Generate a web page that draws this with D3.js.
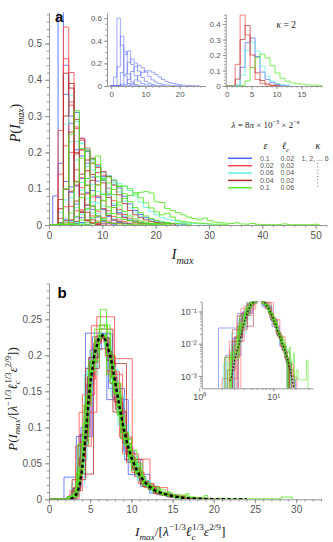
<!DOCTYPE html>
<html>
<head>
<meta charset="utf-8">
<script src="https://cdn.jsdelivr.net/npm/d3@7"></script>
<style>
body { margin: 0; background: #fff; }
svg text { font-family: "Liberation Sans", Arial, sans-serif; }
.math { font-family: "Liberation Serif", "DejaVu Serif", serif; }
</style>
</head>
<body>
<script>
// histogram bins in I_max: bin k covers [binStart + k*binWidth, binStart + (k+1)*binWidth]
const binStart = -0.3, binWidth = 1;

// legend parameters of the five runs
const setEps = ["0.1", "0.02", "0.06", "0.04", "0.1"];
const setEll = ["0.02", "0.02", "0.04", "0.02", "0.06"];
const kappaText = "1, 2, ... 6";

// P(I_max) per bin, one array per kappa = 1..6
const blueHist = [
    [0, 0.08, 0.6, 0.36, 0.09, 0.022, 0.007, 0.002],
    [0, 0, 0.006, 0.12, 0.28, 0.31, 0.19, 0.09, 0.043, 0.022, 0.01, 0.005, 0.002],
    [0, 0, 0.17, 0.44, 0.3, 0.107, 0.035, 0.0125, 0.005, 0.002],
    [0, 0, 0, 0.016, 0.105, 0.207, 0.239, 0.202, 0.132, 0.076, 0.042, 0.023, 0.013, 0.007, 0.004, 0.003],
    [0, 0, 0, 0, 0.012, 0.058, 0.128, 0.17, 0.182, 0.162, 0.123, 0.083, 0.054, 0.034, 0.022, 0.014, 0.009, 0.006, 0.004, 0.003, 0.002],
    [0, 0, 0, 0, 0, 0.004, 0.02, 0.054, 0.095, 0.121, 0.134, 0.134, 0.122, 0.102, 0.079, 0.058, 0.04, 0.029, 0.021, 0.016, 0.011, 0.008, 0.006, 0.004, 0.003, 0.002]
];
const redHist = [
    [0, 0, 0.26, 0.545, 0.42, 0.12, 0.035, 0.012, 0.005, 0.002],
    [0, 0, 0.14, 0.458, 0.33, 0.12, 0.042, 0.015, 0.006, 0.003],
    [0, 0, 0.018, 0.218, 0.339, 0.266, 0.13, 0.056, 0.025, 0.011, 0.005, 0.003],
    [0, 0, 0.001, 0.05, 0.2, 0.27, 0.239, 0.149, 0.077, 0.038, 0.02, 0.011, 0.006, 0.004],
    [0, 0, 0, 0.006, 0.051, 0.152, 0.206, 0.212, 0.169, 0.111, 0.067, 0.039, 0.023, 0.014, 0.009, 0.005, 0.003, 0.002],
    [0, 0, 0, 0, 0.007, 0.039, 0.103, 0.15, 0.171, 0.166, 0.137, 0.1, 0.067, 0.043, 0.029, 0.019, 0.013, 0.008, 0.005, 0.004, 0.003, 0.002]
];
const cyanHist = [
    [0, 0, 0.034, 0.278, 0.358, 0.23, 0.096, 0.042, 0.017, 0.008, 0.004],
    [0, 0, 0.003, 0.069, 0.229, 0.285, 0.226, 0.128, 0.064, 0.032, 0.016, 0.008, 0.005],
    [0, 0, 0, 0.009, 0.075, 0.179, 0.224, 0.21, 0.152, 0.092, 0.052, 0.03, 0.017, 0.01, 0.006, 0.004],
    [0, 0, 0, 0, 0.009, 0.048, 0.117, 0.161, 0.177, 0.164, 0.13, 0.091, 0.059, 0.039, 0.025, 0.016, 0.011, 0.007, 0.005, 0.003, 0.002],
    [0, 0, 0, 0, 0.001, 0.007, 0.03, 0.072, 0.112, 0.134, 0.144, 0.136, 0.116, 0.091, 0.066, 0.047, 0.033, 0.023, 0.016, 0.011, 0.008, 0.006, 0.004, 0.003, 0.002],
    [0, 0, 0, 0, 0, 0, 0.004, 0.013, 0.033, 0.061, 0.086, 0.102, 0.112, 0.114, 0.107, 0.095, 0.08, 0.063, 0.048, 0.037, 0.028, 0.021, 0.016, 0.013, 0.009, 0.007, 0.005, 0.004, 0.003, 0.003, 0.002]
];
const darkRedHist = [
    [0, 0, 0.07, 0.418, 0.377, 0.11, 0.035, 0.012, 0.005, 0.002],
    [0, 0, 0.045, 0.3, 0.39, 0.2, 0.085, 0.035, 0.014, 0.006, 0.003],
    [0, 0, 0.005, 0.098, 0.256, 0.291, 0.209, 0.109, 0.052, 0.025, 0.013, 0.007, 0.004],
    [0, 0, 0, 0.012, 0.093, 0.196, 0.234, 0.206, 0.139, 0.08, 0.045, 0.026, 0.014, 0.009, 0.005, 0.003],
    [0, 0, 0, 0, 0.014, 0.066, 0.14, 0.179, 0.184, 0.158, 0.116, 0.076, 0.048, 0.03, 0.02, 0.012, 0.008, 0.005, 0.003, 0.002],
    [0, 0, 0, 0, 0.001, 0.01, 0.038, 0.086, 0.123, 0.144, 0.147, 0.134, 0.11, 0.083, 0.059, 0.04, 0.028, 0.02, 0.014, 0.01, 0.007, 0.005, 0.004, 0.003]
];
const greenHist = [
    [0, 0, 0.005, 0.1, 0.25, 0.315, 0.21, 0.11, 0.052, 0.025, 0.013, 0.007, 0.004, 0.003, 0.002, 0.001, 0.002, 0.001, 0.001, 0.001, 0.001, 0.001, 0.004],
    [0, 0, 0, 0.003, 0.033, 0.118, 0.184, 0.205, 0.181, 0.132, 0.084, 0.05, 0.031, 0.02, 0.015, 0.012, 0.008, 0.006, 0.005, 0.003],
    [0, 0, 0, 0, 0.004, 0.024, 0.076, 0.128, 0.17, 0.19, 0.125, 0.116, 0.084, 0.055, 0.037, 0.025, 0.017, 0.011, 0.008, 0.005, 0.004, 0.003, 0.002],
    [0, 0, 0, 0, 0, 0.003, 0.014, 0.045, 0.082, 0.11, 0.128, 0.132, 0.124, 0.108, 0.086, 0.065, 0.048, 0.034, 0.025, 0.018, 0.013, 0.009, 0.007, 0.005, 0.004, 0.003, 0.002],
    [0, 0, 0, 0, 0, 0, 0.002, 0.007, 0.02, 0.042, 0.068, 0.086, 0.098, 0.106, 0.107, 0.1, 0.089, 0.075, 0.061, 0.047, 0.036, 0.028, 0.032, 0.022, 0.013, 0.009, 0.008, 0.006, 0.005, 0.004, 0.003, 0.002, 0.002, 0.001],
    [0, 0, 0, 0, 0, 0, 0, 0.001, 0.003, 0.008, 0.017, 0.031, 0.048, 0.063, 0.073, 0.081, 0.085, 0.09, 0.092, 0.088, 0.064, 0.062, 0.045, 0.04, 0.034, 0.028, 0.022, 0.018, 0.014, 0.019, 0.012, 0.008, 0.0065, 0.005, 0.0042, 0.006, 0.003, 0.0024, 0.004, 0.002, 0.0015, 0.001, 0.001, 0.001, 0.003, 0.001, 0.001, 0.001, 0.001, 0.001, 0.002]
];

// 1/[lambda^-1/3 lc^1/3 eps^2/9] per kappa, used for the collapse in panel b
const blueRescale = [2.6, 1.35, 1.95, 1.05, 0.8, 0.6];
const redRescale = [2.15, 1.9, 1.5, 1.2, 0.95, 0.76];
const cyanRescale = [1.6, 1.25, 1.0, 0.78, 0.63, 0.5];
const darkRedRescale = [2.0, 1.65, 1.3, 1.03, 0.82, 0.65];
const greenRescale = [1.3, 0.9, 0.72, 0.58, 0.47, 0.38];

// dashed master curve of panel b
const masterX = [2.6, 2.75, 3, 3.25, 3.5, 3.75, 4, 4.25, 4.5, 4.75, 5, 5.5, 6, 6.5, 7, 7.5, 8, 8.5, 9, 9.5, 10, 10.5, 11, 12, 13, 14, 15, 16, 17, 18, 19, 20, 22, 24];
const masterY = [0.0007, 0.001, 0.003, 0.006, 0.011, 0.022, 0.04, 0.065, 0.095, 0.13, 0.16, 0.2, 0.222, 0.228, 0.218, 0.196, 0.165, 0.132, 0.102, 0.077, 0.058, 0.044, 0.033, 0.019, 0.011, 0.0075, 0.0045, 0.0025, 0.0014, 0.0008, 0.0004, 0.0003, 0.0001, 0.00005];

// ticks
const xTicksA = [0, 10, 20, 30, 40, 50], yTicksA = [0, 0.1, 0.2, 0.3, 0.4, 0.5];
const xTicksI1 = [0, 10, 20], yTicksI1 = [0, 0.2, 0.4, 0.6];
const xTicksI2 = [0, 5, 10, 15], yTicksI2 = [0, 0.1, 0.2, 0.3, 0.4];
const xTicksB = [0, 5, 10, 15, 20, 25, 30], yTicksB = [0, 0.05, 0.1, 0.15, 0.2, 0.25];
const xTicksL = [1, 10], xLabelsL = ["10⁰", "10¹"];
const yTicksL = [0.001, 0.01, 0.1], yLabelsL = ["10⁻³", "10⁻²", "10⁻¹"];

const hists = [blueHist, redHist, cyanHist, darkRedHist, greenHist];
const rescales = [blueRescale, redRescale, cyanRescale, darkRedRescale, greenRescale];
const colors = ["#4d63ff", "#ff4b4b", "#62f0dc", "#b5302a", "#4fe81c"];

const svg = d3.select("body").append("svg")
    .attr("width", 333)
    .attr("height", 542);

let clipCount = 0;
function clipped(x, y) {
    const id = "clip" + (clipCount++);
    const [x0, x1] = x.range(), [y0, y1] = y.range();
    svg.append("clipPath").attr("id", id)
        .append("rect")
        .attr("x", x0).attr("y", y1)
        .attr("width", x1 - x0).attr("height", y0 - y1);
    return svg.append("g").attr("clip-path", `url(#${id})`);
}

// stairs outline of a histogram, rising from and falling back to the baseline
function histPath(values, s, x, y, collapse, logY) {
    const base = y.range()[0];
    const edge = k => {
        let e = binStart + k * binWidth;
        if (collapse) e *= s;
        if (logY && e <= 0) e = x.domain()[0] / 2;
        return x(e);
    };
    const level = v => {
        const h = collapse ? v / s : v;
        return (logY && h <= 0) ? base + 10 : y(h);
    };
    let d = `M${edge(0)},${logY ? base + 10 : base}`;
    values.forEach((v, k) => {
        d += `V${level(v)}H${edge(k + 1)}`;
    });
    return d + `V${logY ? base + 10 : base}`;
}

function drawHists(g, x, y, pick, opts) {
    hists.forEach((set, i) => {
        set.forEach((values, j) => {
            if (!pick(i, j)) return;
            g.append("path")
                .attr("d", histPath(values, rescales[i][j], x, y, opts.collapse, opts.logY))
                .attr("fill", "none")
                .attr("stroke", colors[i])
                .attr("stroke-width", opts.width)
                .attr("stroke-opacity", opts.opacity);
        });
    });
}

function drawAxes(x, y, o) {
    const g = svg.append("g");
    const bottom = y.range()[0], left = x.range()[0];
    g.append("g").attr("transform", `translate(0,${bottom})`)
        .call(d3.axisBottom(x).tickValues(o.xMinor).tickSize(o.minor).tickFormat("").tickSizeOuter(0))
        .select(".domain").remove();
    g.append("g").attr("transform", `translate(${left},0)`)
        .call(d3.axisLeft(y).tickValues(o.yMinor).tickSize(o.minor).tickFormat("").tickSizeOuter(0))
        .select(".domain").remove();
    g.append("g").attr("transform", `translate(0,${bottom})`)
        .call(d3.axisBottom(x).tickValues(o.xMajor).tickSize(o.major).tickSizeOuter(0)
            .tickPadding(o.pad).tickFormat((d, i) => o.xLabels ? o.xLabels[i] : String(d)));
    g.append("g").attr("transform", `translate(${left},0)`)
        .call(d3.axisLeft(y).tickValues(o.yMajor).tickSize(o.major).tickSizeOuter(0)
            .tickPadding(o.pad).tickFormat((d, i) => o.yLabels ? o.yLabels[i] : String(d)));
    g.selectAll(".domain, .tick line").attr("stroke", "#8c8c8c").attr("stroke-width", 0.9);
    g.selectAll(".tick text").attr("fill", "#555").attr("font-size", o.font)
        .attr("font-family", "Liberation Sans, Arial, sans-serif");
}

// rich math text: [text, flags, dx]; flags: i italic, _ subscript, ^ superscript
function rich(sel, parts, size) {
    let shift = 0;
    parts.forEach(([t, fl = "", dx = 0]) => {
        const sup = fl.includes("^"), sub = fl.includes("_");
        const target = sup ? -0.4 * size : sub ? 0.3 * size : 0;
        const ts = sel.append("tspan").text(t)
            .attr("dy", target - shift)
            .attr("font-size", sup || sub ? size * 0.68 : size)
            .attr("font-style", fl.includes("i") ? "italic" : "normal");
        if (dx) ts.attr("dx", dx);
        shift = target;
    });
}

function mathText(x, y, size, parts, rotate, anchor) {
    const t = svg.append("text").attr("class", "math")
        .attr("fill", "#222")
        .attr("text-anchor", anchor || "start")
        .attr("transform", `translate(${x},${y})` + (rotate ? " rotate(-90)" : ""));
    rich(t, parts, size);
    return t;
}

// ---------- panel a ----------
const xA = d3.scaleLinear([0, 52], [49, 326.3]);
const yA = d3.scaleLinear([0, 0.585], [225, 12.6]);
drawHists(clipped(xA, yA), xA, yA, () => true, {width: 1, opacity: 0.85});
drawAxes(xA, yA, {xMajor: xTicksA, yMajor: yTicksA, xMinor: d3.range(0, 52.1, 2), yMinor: d3.range(0, 0.581, 0.02),
    major: 4, minor: 2.2, pad: 3, font: 10});

svg.append("text").attr("x", 55).attr("y", 21.5).attr("font-size", 15).attr("font-weight", "bold").text("a");
mathText(20, 123, 14, [["P", "i"], ["("], ["I", "i"], ["max", "i_"], [")"]], true, "middle");
mathText(171.5, 259, 15, [["I", "i"], ["max", "i_"]]);

// inset: blue run, all kappa
const xI1 = d3.scaleLinear([-1.2, 27.5], [107, 205.4]);
const yI1 = d3.scaleLinear([0, 0.645], [86, 13]);
drawHists(clipped(xI1, yI1), xI1, yI1, i => i === 0, {width: 0.8, opacity: 0.7});
drawAxes(xI1, yI1, {xMajor: xTicksI1, yMajor: yTicksI1, xMinor: d3.range(0, 27.1, 2), yMinor: d3.range(0, 0.64, 0.05),
    major: 3, minor: 1.6, pad: 2, font: 8});

// inset: kappa = 2, all runs
const xI2 = d3.scaleLinear([-0.2, 19.1], [225.7, 321.8]);
const yI2 = d3.scaleLinear([0, 0.465], [86, 14]);
drawHists(clipped(xI2, yI2), xI2, yI2, (i, j) => j === 1, {width: 0.9, opacity: 0.8});
drawAxes(xI2, yI2, {xMajor: xTicksI2, yMajor: yTicksI2, xMinor: d3.range(0, 19.1, 1), yMinor: d3.range(0, 0.461, 0.02),
    major: 3, minor: 1.6, pad: 2, font: 8});
mathText(276.5, 28, 9.5, [["κ", "i"], [" = 2"]]);

mathText(231.5, 128, 9, [["λ", "i"], [" = 8"], ["π", "i"], [" × 10"], ["−3", "^"], [" × 2"], ["−", "^"], ["κ", "i^"]]);

// legend
const legY = [158.3, 165.7, 173, 180.4, 187.7];
mathText(263.5, 148.5, 10, [["ε", "i"]]);
mathText(282, 148.5, 10, [["ℓ", "i"], ["c", "i_"]]);
mathText(315.5, 148.5, 10, [["κ", "i"]]);
legY.forEach((ly, i) => {
    svg.append("line").attr("x1", 228).attr("x2", 252).attr("y1", ly).attr("y2", ly)
        .attr("stroke", colors[i]).attr("stroke-width", 1.5);
    svg.append("text").attr("x", 260).attr("y", ly + 2.4).attr("font-size", 7).attr("fill", "#555").text(setEps[i]);
    svg.append("text").attr("x", 280.5).attr("y", ly + 2.4).attr("font-size", 7).attr("fill", "#555").text(setEll[i]);
});
svg.append("text").attr("x", 301.5).attr("y", legY[0] + 2.4).attr("font-size", 7).attr("fill", "#555").text(kappaText);
svg.append("line").attr("x1", 317.8).attr("x2", 317.8).attr("y1", legY[1] - 2.5).attr("y2", legY[4] - 1)
    .attr("stroke", "#666").attr("stroke-width", 1).attr("stroke-dasharray", "1,2.2");

// ---------- panel b ----------
const xB = d3.scaleLinear([0, 33.1], [49, 321.7]);
const yB = d3.scaleLinear([0, 0.3], [499.3, 283.3]);
const gB = clipped(xB, yB);
drawHists(gB, xB, yB, () => true, {width: 1, opacity: 0.8, collapse: true});
gB.append("path")
    .attr("d", d3.line().x((d, i) => xB(masterX[i])).y(d => yB(d))(masterY))
    .attr("fill", "none").attr("stroke", "#000").attr("stroke-width", 2.4)
    .attr("stroke-dasharray", "3.2,2.6");
drawAxes(xB, yB, {xMajor: xTicksB, yMajor: yTicksB, xMinor: d3.range(0, 33.1, 1), yMinor: d3.range(0, 0.301, 0.01),
    major: 4, minor: 2.2, pad: 3, font: 10});

svg.append("text").attr("x", 57.5).attr("y", 297.5).attr("font-size", 15).attr("font-weight", "bold").text("b");
const scaleParts = [["/["], ["λ", "i"], ["−1/3", "^"], ["ℓ", "i"], ["c", "i_"], ["1/3", "^", -3.4], ["ε", "i"], ["2/9", "^"], ["]"]];
mathText(16.5, 399, 13, [["P", "i"], ["("], ["I", "i"], ["max", "i_"]].concat(scaleParts, [[")"]]), true, "middle");
mathText(135, 535.5, 13.5, [["I", "i"], ["max", "i_"]].concat(scaleParts));

// inset: log-log collapse
const xL = d3.scaleLog([1.08, 34.4], [201.7, 313]);
const yL = d3.scaleLog([4.2e-4, 0.2], [388.3, 301.7]);
const gL = clipped(xL, yL);
drawHists(gL, xL, yL, () => true, {width: 0.8, opacity: 0.7, collapse: true, logY: true});
gL.append("path")
    .attr("d", d3.line().x((d, i) => xL(masterX[i])).y(d => yL(d))(masterY))
    .attr("fill", "none").attr("stroke", "#222").attr("stroke-width", 1.3)
    .attr("stroke-dasharray", "1.6,1.8");
const logMinor = (lo, hi) => d3.range(lo, hi).flatMap(e => d3.range(1, 10).map(m => m * Math.pow(10, e)));
drawAxes(xL, yL, {xMajor: xTicksL, xLabels: xLabelsL, yMajor: yTicksL, yLabels: yLabelsL,
    xMinor: logMinor(0, 2).filter(v => v >= 1.08 && v <= 34.4),
    yMinor: logMinor(-4, 0).filter(v => v >= 4.2e-4 && v <= 0.2),
    major: 3, minor: 1.6, pad: 2, font: 9});
</script>
</body>
</html>
